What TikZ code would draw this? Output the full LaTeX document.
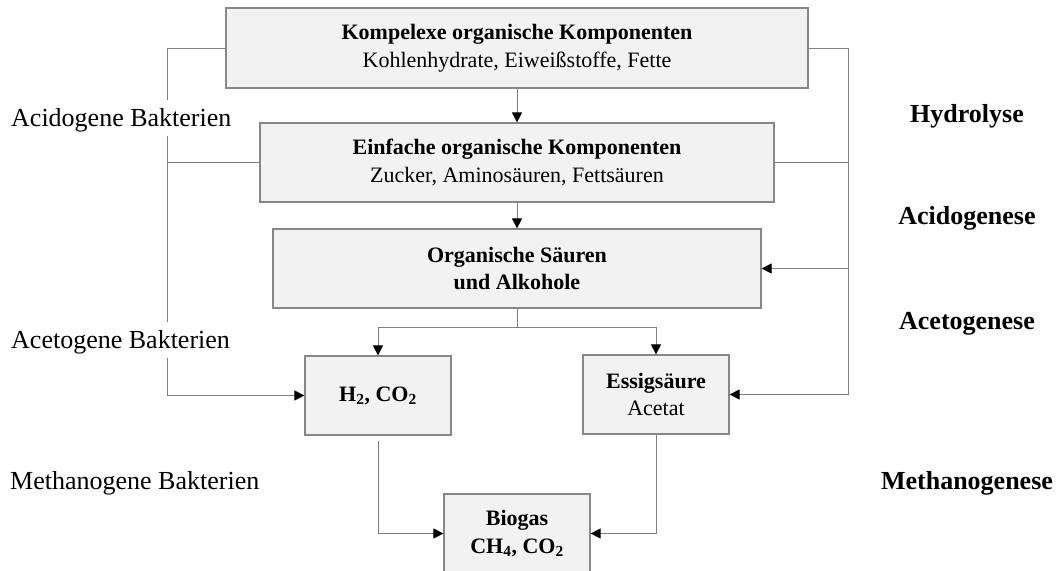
\documentclass[tikz,border=0pt]{standalone}
\usepackage{fontspec}
\setmainfont{Liberation Serif}
\usetikzlibrary{arrows.meta}
\definecolor{boxfill}{RGB}{242,242,242}
\definecolor{boxline}{RGB}{135,135,135}
\definecolor{conline}{RGB}{128,128,128}
\begin{document}
\begin{tikzpicture}[x=1pt,y=-1pt,
  box/.style={draw=boxline, fill=boxfill, line width=1.2pt, align=center, inner sep=0pt,
              font=\fontsize{22}{27.7}\selectfont},
  conn/.style={draw=conline, line width=1pt},
  arr/.style={conn, -{Triangle[length=10pt,width=10pt,color=black,fill=black]}},
  bakt/.style={font=\fontsize{26}{31}\selectfont, inner xsep=1pt, inner ysep=4pt,
               text height=22pt, text depth=6pt, fill=white, anchor=base west},
  phase/.style={font=\fontsize{26}{31}\selectfont\bfseries, inner sep=0pt, anchor=base}]
\useasboundingbox (0,0) rectangle (1057,570);
\clip (0,0) rectangle (1057,570);
\fill[white] (0,0) rectangle (1057,570);
% boxes
\node[box, minimum width=582pt, minimum height=80pt] (b1) at (517,48)
  {\textbf{Kompelexe organische Komponenten}\\Kohlenhydrate, Eiweißstoffe, Fette};
\node[box, minimum width=514pt, minimum height=79pt] (b2) at (517,162.5)
  {\textbf{Einfache organische Komponenten}\\Zucker, Aminosäuren, Fettsäuren};
\node[box, minimum width=488pt, minimum height=79pt] (b3) at (517,268.5)
  {\textbf{Organische Säuren}\\\textbf{und Alkohole}};
\node[box, minimum width=146pt, minimum height=79pt] (h2) at (378,395.5)
  {\textbf{H\textsubscript{2}, CO\textsubscript{2}}};
\node[box, minimum width=146pt, minimum height=79pt] (es) at (656,394.5)
  {\textbf{Essigsäure}\\Acetat};
\node[box, minimum width=146pt, minimum height=79pt] (bg) at (517,533.5)
  {\textbf{Biogas}\\\textbf{CH\textsubscript{4}, CO\textsubscript{2}}};
% helper coordinates
\coordinate (L) at (167,0);
\coordinate (R) at (848,0);
\coordinate (fork) at (517,327);
% connectors
\draw[arr] (b1.south) -- (b2.north);
\draw[arr] (b2.south) -- (b3.north);
\draw[conn] (b3.south) -- (fork);
\draw[arr] (fork) -| (h2.north);
\draw[arr] (fork) -| (es.north);
\draw[arr] (b1.west) -| (L |- h2.west) -- (h2.west);
\draw[conn] (b2.west) -- (b2.west -| L);
\draw[arr] (b1.east) -| (R |- es.east) -- (es.east);
\draw[conn] (b2.east) -- (b2.east -| R);
\draw[arr] (b3.east -| R) -- (b3.east);
\draw[arr, shorten <=5pt] (h2.south) |- (bg.west);
\draw[arr] (es.south) |- (bg.east);
% labels
\node[bakt] (acid) at (10,126) {Acidogene Bakterien};
\node[bakt] (acet) at (10,348) {Acetogene Bakterien};
\node[bakt] (meth) at (9,489) {Methanogene Bakterien};
\node[phase] (hyd) at (967,122.7) {Hydrolyse};
\node[phase] (acg) at (967,224) {Acidogenese};
\node[phase] (atg) at (967,329) {Acetogenese};
\node[phase] (mtg) at (967,489) {Methanogenese};
\end{tikzpicture}
\end{document}
